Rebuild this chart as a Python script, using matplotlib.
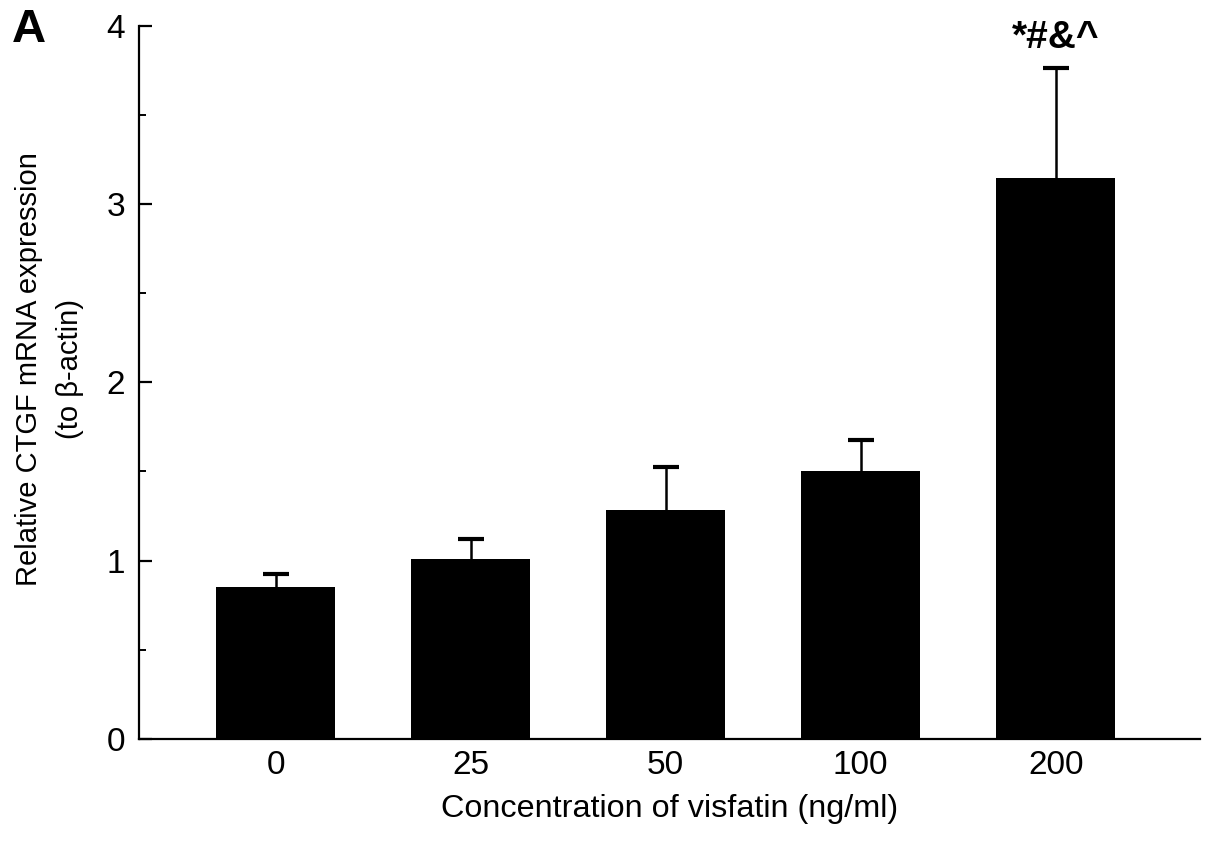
import numpy as np
import matplotlib
matplotlib.use("Agg")
import matplotlib.pyplot as plt
from matplotlib.ticker import MultipleLocator

# ── Data ──────────────────────────────────────────────────────────────────────

concentrations = ["0", "25", "50", "100", "200"]
mean_expr      = [0.855, 1.008, 1.284, 1.503, 3.145]
upper_err      = [0.070, 0.115, 0.241, 0.174, 0.615]
sig_label      = "*#&^"

plt.rcParams["font.family"] = ["Liberation Sans", "DejaVu Sans"]

fig = plt.figure(figsize=(12.05, 8.5), dpi=100)
ax = fig.add_axes([0.1154, 0.1306, 0.8805, 0.8392])

x = np.arange(len(concentrations))
means = np.array(mean_expr)
errs = np.array(upper_err)

# error stems (upper only), then the caps, then the bars on top
ax.errorbar(x, means, yerr=[np.zeros_like(errs), errs], fmt="none",
            ecolor="black", elinewidth=1.8, capsize=0, zorder=1)
ax.plot(x, means + errs, ls="none", marker="_", ms=19, mew=3.0,
        color="black", zorder=1)
ax.bar(x, means, width=0.61, color="black", zorder=2)

# significance marks over the last bar
ax.text(x[-1], 3.93, sig_label, ha="center", va="center",
        fontsize=28, fontweight="bold")

ax.set_xlim(-0.70, x[-1] + 0.74)
ax.set_ylim(0, 4)
ax.set_xticks(x)
ax.set_xticklabels(concentrations)
ax.yaxis.set_major_locator(MultipleLocator(1))
ax.yaxis.set_minor_locator(MultipleLocator(0.5))

for side in ["top", "right"]:
    ax.spines[side].set_visible(False)
for side in ["left", "bottom"]:
    ax.spines[side].set_linewidth(1.6)

ax.tick_params(axis="x", length=0, labelsize=24, pad=8)
ax.tick_params(axis="y", which="major", direction="in", length=9,
               width=1.6, labelsize=24, pad=10)
ax.tick_params(axis="y", which="minor", direction="in", length=5, width=1.4)

ax.set_xlabel("Concentration of visfatin (ng/ml)", fontsize=23.3, labelpad=9)
ax.set_ylabel("Relative CTGF mRNA expression\n(to β-actin)", fontsize=21,
              linespacing=1.6)
ax.yaxis.set_label_coords(-0.052, 0.518)

fig.text(0.010, 0.990, "A", fontsize=34, fontweight="bold", va="top")

fig.savefig("out.png", dpi=100)
